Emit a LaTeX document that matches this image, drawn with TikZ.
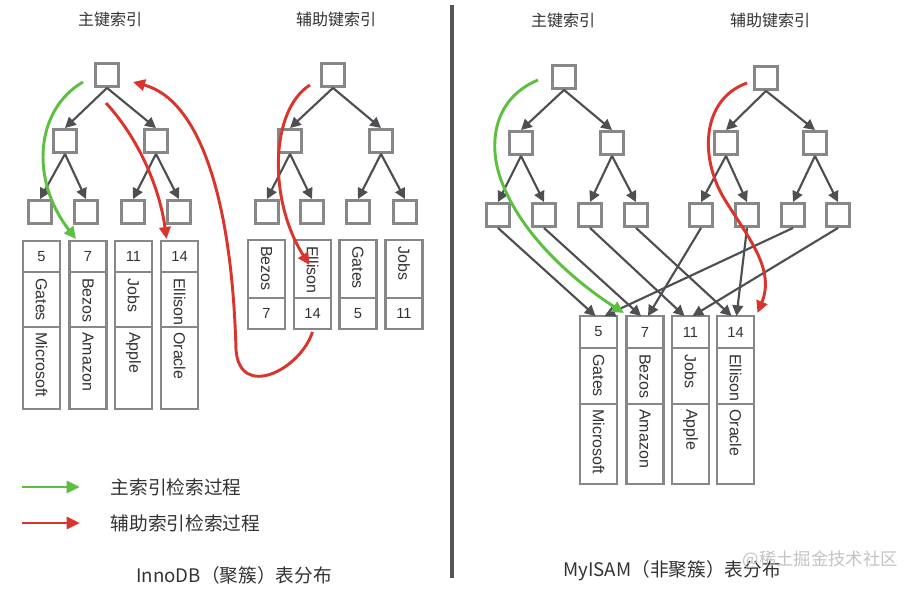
\documentclass[tikz,border=0pt]{standalone}
\usepackage{fontspec}
\setmainfont{Liberation Sans}
\newfontfamily\cjk{Noto Sans CJK SC}
\usetikzlibrary{arrows.meta,calc}
\definecolor{boxgray}{HTML}{878787}
\definecolor{edgegray}{HTML}{4D4F52}
\definecolor{okgreen}{HTML}{5CBF3F}
\definecolor{errred}{HTML}{D9352C}
\definecolor{txt}{HTML}{333333}
\definecolor{divgray}{HTML}{555555}
\definecolor{wmgray}{HTML}{BDBDBD}

\newcommand\threecol[9]{%
  \node[cell,anchor=north,minimum height=#4] (#1) at (#2,#3) {#7};
  \node[cell,anchor=north,minimum height=#5] (#1n) at (#1.south) {};
  \node[cell,anchor=north,minimum height=#6] (#1c) at (#1n.south) {};
  \node[vtext,anchor=west] (#1nt) at ($(#1n.north)+(0,6)$) {#8};
  \node[vtext,anchor=west] (#1ct) at ($(#1c.north)+(0,5)$) {#9};
}
\newcommand\twocol[5]{%
  \node[cell,anchor=north,minimum height=43.5pt] (#1n) at (#2,#3) {};
  \node[cell,anchor=north,minimum height=23.25pt] (#1) at (#1n.south) {#5};
  \node[vtext,anchor=west] (#1nt) at ($(#1n.north)+(0,6)$) {#4};
}

\begin{document}
\begin{tikzpicture}[x=0.75pt,y=-0.75pt,
  bnode/.style={draw=boxgray, line width=2.4pt, fill=white, minimum size=17pt, inner sep=0pt},
  edge/.style={draw=edgegray, line width=1.6pt, -{Triangle[length=8pt,width=8pt]}},
  cell/.style={draw=boxgray, line width=2pt, minimum width=27.75pt, inner sep=0pt, outer sep=0pt,
    font=\fontsize{11pt}{13pt}\selectfont, text=txt},
  vtext/.style={rotate=-90, inner sep=0pt, font=\fontsize{12pt}{14pt}\selectfont, text=txt},
  gpath/.style={draw=okgreen, line width=2.2pt, -{Triangle[length=9pt,width=8.5pt]}},
  rpath/.style={draw=errred, line width=2.2pt, -{Triangle[length=9pt,width=8.5pt]}},
  title/.style={font=\cjk\fontsize{12pt}{14pt}\selectfont, text=txt},
  lgtext/.style={font=\cjk\fontsize{14pt}{16pt}\selectfont, text=txt, anchor=west},
  captext/.style={font=\cjk\fontsize{14pt}{16pt}\selectfont, text=txt}
]
\fill[white] (0,0) rectangle (919,588);
\useasboundingbox (0,0) rectangle (919,588);

% titles
\node[title] (t1) at (110,19) {主键索引};
\node[title] (t2) at (336,19) {辅助键索引};
\node[title] (t3) at (563,20) {主键索引};
\node[title] (t4) at (770,20) {辅助键索引};

% divider
\coordinate (dtop) at (452,5);
\coordinate (dbot) at (452,578);
\draw[divgray, line width=2.4pt] (dtop) -- (dbot);

% ---------- left primary tree ----------
\node[bnode] (pr) at (107,75) {};
\node[bnode] (pa) at (65,141) {};
\node[bnode] (pb) at (156,141) {};
\node[bnode] (p1) at (40,212) {};
\node[bnode] (p2) at (86,212) {};
\node[bnode] (p3) at (133,212) {};
\node[bnode] (p4) at (179,212) {};
\draw[edge] (pr.south) -- (pa.north);
\draw[edge] (pr.south) -- (pb.north);
\draw[edge] (pa.south) -- (p1.north);
\draw[edge] (pa.south) -- (p2.north);
\draw[edge] (pb.south) -- (p3.north);
\draw[edge] (pb.south) -- (p4.north);

\threecol{K5}{41.5}{241}{23.25pt}{41.25pt}{61.5pt}{5}{Gates}{Microsoft}
\threecol{K7}{88}{241}{23.25pt}{41.25pt}{61.5pt}{7}{Bezos}{Amazon}
\threecol{K11}{133.5}{241}{23.25pt}{41.25pt}{61.5pt}{11}{Jobs}{Apple}
\threecol{K14}{179.5}{241}{23.25pt}{41.25pt}{61.5pt}{14}{Ellison}{Oracle}

% ---------- left secondary tree ----------
\node[bnode] (sr) at (333,75) {};
\node[bnode] (sa) at (290,141) {};
\node[bnode] (sb) at (381,141) {};
\node[bnode] (s1) at (267,212) {};
\node[bnode] (s2) at (312,212) {};
\node[bnode] (s3) at (358,212) {};
\node[bnode] (s4) at (405,212) {};
\draw[edge] (sr.south) -- (sa.north);
\draw[edge] (sr.south) -- (sb.north);
\draw[edge] (sa.south) -- (s1.north);
\draw[edge] (sa.south) -- (s2.north);
\draw[edge] (sb.south) -- (s3.north);
\draw[edge] (sb.south) -- (s4.north);

\twocol{S7}{266.5}{240}{Bezos}{7}
\twocol{S14}{312.5}{240}{Ellison}{14}
\twocol{S5}{358}{240}{Gates}{5}
\twocol{S11}{404}{240}{Jobs}{11}

% left coloured paths
\coordinate (g1s) at (83,82);
\coordinate (g1e) at ($(K7.north)+(-12,-2)$);
\draw[gpath] (g1s) .. controls (35,110) and (30,180) .. (g1e);
\coordinate (r1s) at (106,103);
\coordinate (r1e) at ($(K14.north)+(-13,-2)$);
\draw[rpath] (r1s) .. controls (140,140) and (160,190) .. (r1e);
\coordinate (r2s) at (310,85);
\coordinate (r2e) at ($(S14n.north)+(-3,25)$);
\draw[rpath] (r2s) .. controls (270,110) and (268,200) .. (r2e);
\coordinate (r3s) at ($(S14.south)+(0,3)$);
\coordinate (r3m) at (236,350);
\coordinate (r3e) at (133,82);
\draw[rpath] (r3s) .. controls (300,370) and (240,400) .. (r3m)
   .. controls (232,200) and (200,100) .. (r3e);

% legend
\coordinate (lg1a) at (22,487);
\coordinate (lg1b) at (80,487);
\coordinate (lg2a) at (22,523);
\coordinate (lg2b) at (80,523);
\draw[draw=okgreen, line width=2.2pt, -{Triangle[length=10pt,width=9pt]}] (lg1a) -- (lg1b);
\draw[draw=errred, line width=2.2pt, -{Triangle[length=10pt,width=9pt]}] (lg2a) -- (lg2b);
\node[lgtext] (lgt1) at (106,487) {主索引检索过程};
\node[lgtext] (lgt2) at (106,523) {辅助索引检索过程};

\node[captext] (capL) at (234,575) {InnoDB（聚簇）表分布};

% ---------- right primary tree ----------
\node[bnode] (qr) at (564,77) {};
\node[bnode] (qa) at (521,143) {};
\node[bnode] (qb) at (612,143) {};
\node[bnode] (q1) at (498,215) {};
\node[bnode] (q2) at (544,215) {};
\node[bnode] (q3) at (590,215) {};
\node[bnode] (q4) at (636,215) {};
\draw[edge] (qr.south) -- (qa.north);
\draw[edge] (qr.south) -- (qb.north);
\draw[edge] (qa.south) -- (q1.north);
\draw[edge] (qa.south) -- (q2.north);
\draw[edge] (qb.south) -- (q3.north);
\draw[edge] (qb.south) -- (q4.north);

% ---------- right secondary tree ----------
\node[bnode] (tr) at (766,78) {};
\node[bnode] (ta) at (726,143) {};
\node[bnode] (tb) at (815,143) {};
\node[bnode] (u1) at (701,215) {};
\node[bnode] (u2) at (747,215) {};
\node[bnode] (u3) at (793,215) {};
\node[bnode] (u4) at (838,215) {};
\draw[edge] (tr.south) -- (ta.north);
\draw[edge] (tr.south) -- (tb.north);
\draw[edge] (ta.south) -- (u1.north);
\draw[edge] (ta.south) -- (u2.north);
\draw[edge] (tb.south) -- (u3.north);
\draw[edge] (tb.south) -- (u4.north);

% right records
\threecol{R5}{598.5}{316}{24pt}{42pt}{60pt}{5}{Gates}{Microsoft}
\threecol{R7}{645}{316}{24pt}{42pt}{60pt}{7}{Bezos}{Amazon}
\threecol{R11}{690.5}{316}{24pt}{42pt}{60pt}{11}{Jobs}{Apple}
\threecol{R14}{735.5}{316}{24pt}{42pt}{60pt}{14}{Ellison}{Oracle}

% leaf -> record pointers
\draw[edge] (q1.south) -- ($(R5.north)+(-3,0)$);
\draw[edge] (u3.south) -- ($(R5.north)+(6,0)$);
\draw[edge] (q2.south) -- ($(R7.north)+(-4,0)$);
\draw[edge] (u1.south) -- ($(R7.north)+(3,0)$);
\draw[edge] (q3.south) -- ($(R11.north)+(-6,0)$);
\draw[edge] (u4.south) -- ($(R11.north)+(2,0)$);
\draw[edge] (q4.south) -- ($(R14.north)+(-4,0)$);
\draw[edge] (u2.south) -- ($(R14.north)+(1,0)$);

% right coloured paths
\coordinate (g2s) at (538,80);
\coordinate (g2m) at (503,185);
\coordinate (g2e) at ($(R7.north)+(-21,-3)$);
\draw[gpath] (g2s) .. controls (490,100) and (488,150) .. (g2m)
   .. controls (525,240) and (580,285) .. (g2e);
\coordinate (r4s) at (747,83);
\coordinate (r4m) at (725,200);
\coordinate (r4e) at ($(R14.north)+(22,-3)$);
\draw[rpath] (r4s) .. controls (700,100) and (700,160) .. (r4m)
   .. controls (750,240) and (775,270) .. (r4e);

\node[captext] (capR) at (672,571) {MyISAM（非聚簇）表分布};
\node[font=\cjk\fontsize{13pt}{15pt}\selectfont, text=wmgray, opacity=0.9, anchor=west] (wm) at (738,560) {@稀土掘金技术社区};
\end{tikzpicture}
\end{document}
